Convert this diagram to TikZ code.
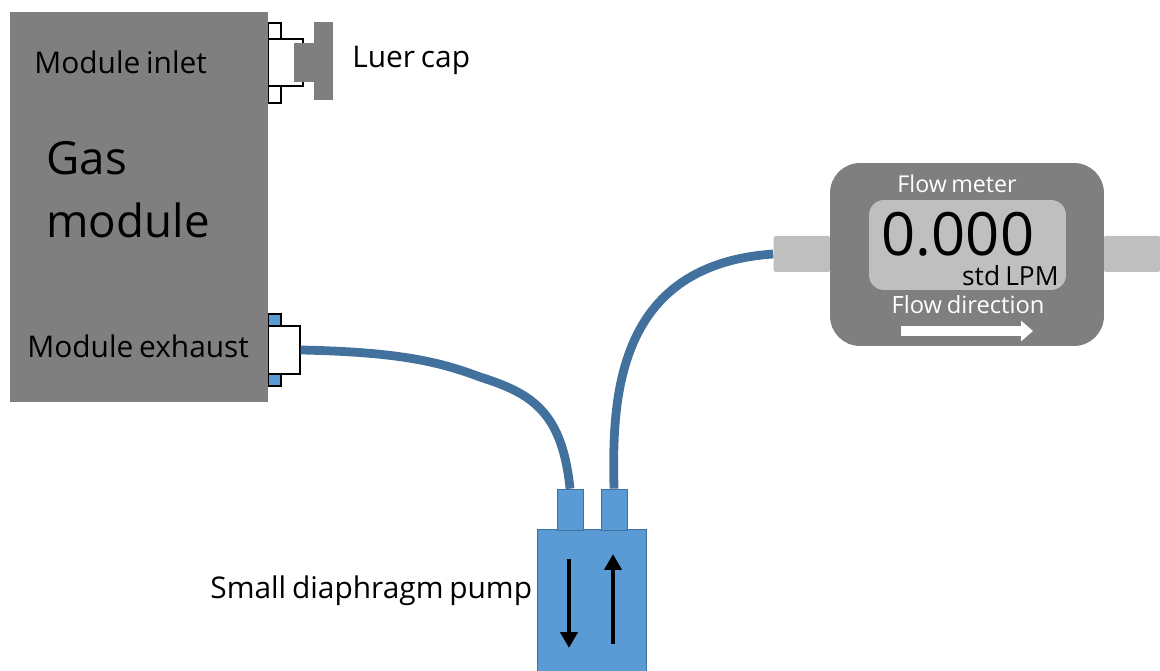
\documentclass[tikz,border=0pt]{standalone}
\usepackage{fontspec}
\setmainfont[WordSpace=0.75]{Open Sans}
\usepackage{xcolor}
\usetikzlibrary{arrows.meta}
\definecolor{gmGray}{RGB}{127,127,127}
\definecolor{gmLight}{RGB}{191,191,191}
\definecolor{gmBlue}{RGB}{ 91,155,213}
\definecolor{gmTube}{RGB}{ 65,113,156}
\newcommand{\gmfont}[1]{\fontsize{#1}{#1}\selectfont}
\begin{document}
\begin{tikzpicture}[
    x=0.02cm, y=-0.02cm,
    block/.style={fill=gmGray, inner sep=0pt},
    fitting/.style={draw=black, fill=white, line width=0.7pt, inner sep=0pt},
    nipple/.style={draw=black, fill=gmBlue, line width=0.7pt, inner sep=0pt},
    stub/.style={fill=gmLight, inner sep=0pt, rounded corners=1pt, minimum width=1.14cm, minimum height=0.72cm},
    portbox/.style={draw=gmTube, fill=gmBlue, line width=0.4pt, inner sep=0pt, minimum width=0.52cm, minimum height=0.82cm},
    tube/.style={draw=gmTube, line width=5pt},
    label/.style={inner sep=0pt, font=\gmfont{17}}
  ]
  \useasboundingbox (0,0) rectangle (1160,671);
  % gas module with its fittings
  \node[fitting, minimum width=0.26cm, minimum height=0.32cm] (inletA) at (274.5,31) {};
  \node[fitting, minimum width=0.26cm, minimum height=0.34cm] (inletB) at (274.5,94.5) {};
  \node[fitting, minimum width=0.70cm, minimum height=0.94cm] (inlet) at (285.5,62.5) {};
  \node[nipple, minimum width=0.26cm, minimum height=0.24cm] (exhaustA) at (274.5,320) {};
  \node[nipple, minimum width=0.26cm, minimum height=0.24cm] (exhaustB) at (274.5,380) {};
  \node[fitting, minimum width=0.64cm, minimum height=0.96cm] (exhaust) at (284,350) {};
  \node[block, minimum width=5.16cm, minimum height=7.80cm] (module) at (139,207) {};
  \node[label, anchor=base west] (inlettext) at (34,74) {Module inlet};
  \node[label, anchor=base west] (exhausttext) at (27,358) {Module exhaust};
  \node[inner sep=0pt, anchor=base west, align=left, font=\gmfont{26}] (gastext) at (46,175) {Gas};
  \node[inner sep=0pt, anchor=base west, align=left, font=\gmfont{26}] (modtext) at (46,238) {module};
  % luer cap
  \node[block, minimum width=0.40cm, minimum height=0.78cm] (capstem) at (304,62.5) {};
  \node[block, minimum width=0.38cm, minimum height=1.56cm] (caphead) at (323.5,61) {};
  \node[label, anchor=base west] (captext) at (352,68) {Luer cap};
  % pump
  \node[draw=gmTube, fill=gmBlue, line width=0.4pt, inner sep=0pt, minimum width=2.18cm, minimum height=2.90cm] (pump) at (591.5,602) {};
  \node[portbox] (portin) at (570,509.5) {};
  \node[portbox] (portout) at (614,509.5) {};
  \node[label, anchor=base west] (pumptext) at (210,599) {Small diaphragm pump};
  \coordinate (downA) at (569,559);
  \coordinate (downB) at (569,648);
  \coordinate (upA) at (613,644);
  \coordinate (upB) at (613,554);
  \draw[-{Triangle[length=3.2mm, width=3.4mm]}, line width=2.8pt, black] (downA) -- (downB);
  \draw[-{Triangle[length=3.2mm, width=3.4mm]}, line width=2.8pt, black] (upA) -- (upB);
  % flow meter
  \node[stub] (stubL) at (802,254) {};
  \node[stub] (stubR) at (1132,254) {};
  \node[block, rounded corners=0.6cm, minimum width=5.48cm, minimum height=3.66cm] (meter) at (967,254.5) {};
  \node[fill=gmLight, rounded corners=0.3cm, inner sep=0pt, minimum width=3.94cm, minimum height=1.80cm] (display) at (967.5,245) {};
  \node[label, white, anchor=base, font=\gmfont{13.2}] (metertext) at (957,193) {Flow meter};
  \node[inner sep=0pt, anchor=base, font=\gmfont{34}] (reading) at (958,256) {0.000};
  \node[label, anchor=base east, font=\gmfont{15}] (unittext) at (1059,286) {std LPM};
  \node[label, white, anchor=base, font=\gmfont{13.5}] (dirtext) at (968,314) {Flow direction};
  \coordinate (flowA) at (901,331);
  \coordinate (flowB) at (1033,331);
  \draw[-{Triangle[length=2.4mm, width=4mm]}, line width=1.9mm, white] (flowA) -- (flowB);
  % tubes
  \draw[tube] (exhaust.east) .. controls (400,352) and (440,362) .. (480,377)
    .. controls (530,393) and (562,410) .. (portin.north);
  \draw[tube] (portout.north) .. controls (612,400) and (615,265) .. (stubL.west);
\end{tikzpicture}
\end{document}
